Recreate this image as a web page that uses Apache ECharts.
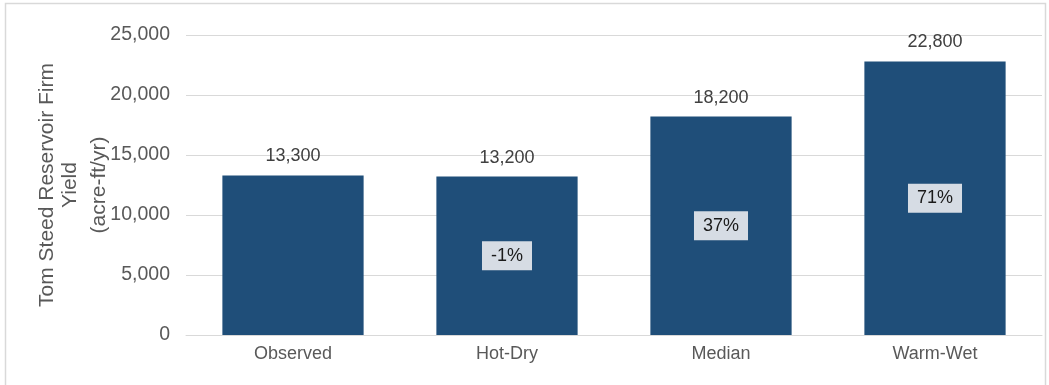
<!DOCTYPE html>
<html><head><meta charset="utf-8">
<script src="https://cdn.jsdelivr.net/npm/echarts@6/dist/echarts.min.js"></script>
<style>html,body{margin:0;padding:0;background:#fff}#c{width:1049px;height:385px}</style>
</head><body><div id="c"></div>
<script>
const categories = ['Observed', 'Hot-Dry', 'Median', 'Warm-Wet'];
const firmYield = [13300, 13200, 18200, 22800];
const changeLabels = ['', '-1%', '37%', '71%'];
const yTicks = [0, 5000, 10000, 15000, 20000, 25000];
const yAxisTitle = ['Tom Steed Reservoir Firm', 'Yield', '(acre-ft/yr)'];

const chart = echarts.init(document.getElementById('c'), null, {renderer: 'canvas'});
const font = 'Liberation Sans, Arial, sans-serif';
const titleX = [47, 70, 99];
chart.setOption({
  animation: false,
  graphic: [
    {type: 'rect', shape: {x: 5.5, y: 3.5, width: 1040, height: 390}, style: {fill: 'none', stroke: '#d9d9d9', lineWidth: 1.5}, silent: true}
  ].concat(yAxisTitle.map((t, i) => ({
    type: 'text', x: titleX[i], y: 185, rotation: Math.PI / 2, silent: true,
    style: {text: t, fill: '#595959', font: '21px ' + font, align: 'center', verticalAlign: 'middle'}
  }))),
  grid: {left: 186, right: 7, top: 35, bottom: 50, containLabel: false, outerBoundsMode: 'none'},
  xAxis: {
    type: 'category', data: categories,
    axisLine: {lineStyle: {color: '#d9d9d9', width: 1}},
    axisTick: {show: false},
    axisLabel: {color: '#595959', fontSize: 18, fontFamily: font, margin: 10}
  },
  yAxis: {
    type: 'value', min: yTicks[0], max: yTicks[yTicks.length - 1], interval: 5000,
    axisLine: {show: false}, axisTick: {show: false},
    splitLine: {lineStyle: {color: '#d9d9d9', width: 1}},
    axisLabel: {color: '#595959', fontSize: 19.5, fontFamily: font, margin: 16,
      formatter: v => v.toLocaleString('en-US')}
  },
  series: [{
    type: 'bar', data: firmYield, barCategoryGap: '34%',
    itemStyle: {color: '#1f4e79'},
    label: {show: true, position: 'top', distance: 10, color: '#404040', fontSize: 18, fontFamily: font,
      formatter: p => p.value.toLocaleString('en-US')}
  }, {
    type: 'bar', barGap: '-100%', barCategoryGap: '34%',
    data: firmYield.map((v, i) => changeLabels[i] ? v : {value: v, label: {show: false}}),
    itemStyle: {color: 'transparent'}, silent: true,
    label: {show: true, position: 'inside', color: '#1a1a1a', fontSize: 18, fontFamily: font,
      backgroundColor: '#d6dce4', padding: [6, 9, 5, 9],
      formatter: p => changeLabels[p.dataIndex]},
    z: 3
  }]
});
</script></body></html>
